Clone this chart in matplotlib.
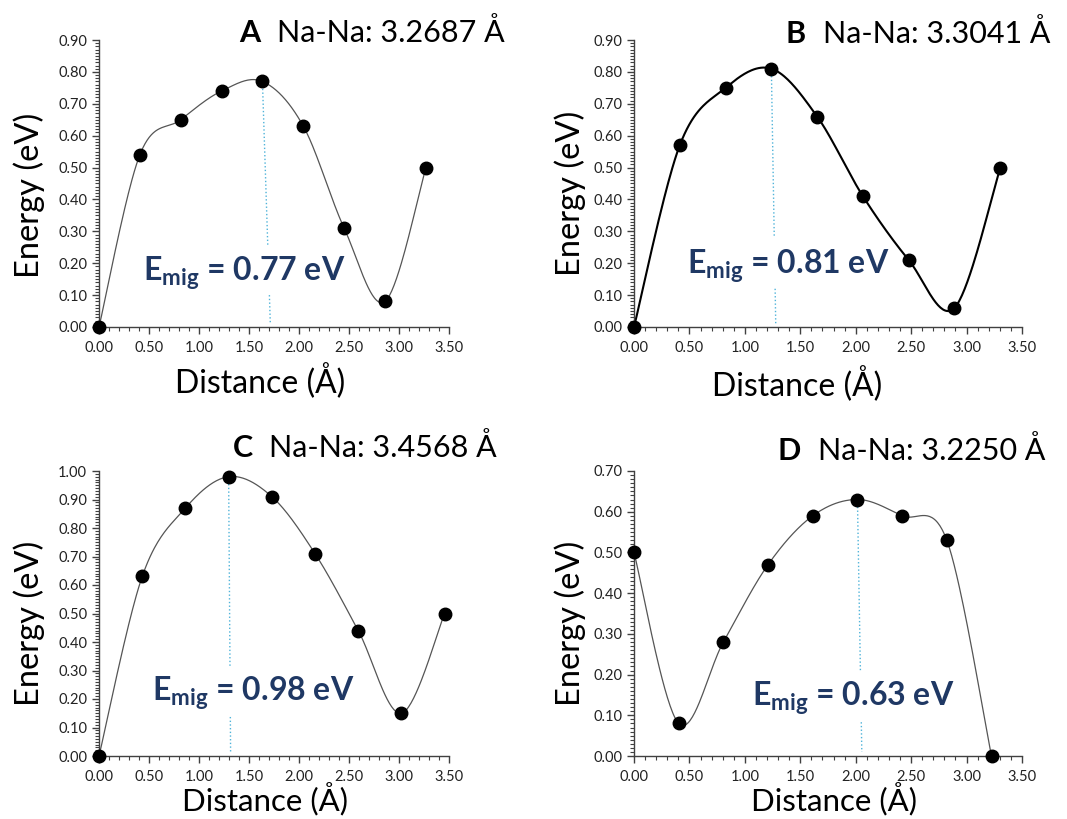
import numpy as np
import matplotlib
matplotlib.use('Agg')
import matplotlib.pyplot as plt
from matplotlib.ticker import MultipleLocator, FormatStrFormatter

plt.rcParams['font.family'] = ['Lato', 'DejaVu Sans']
plt.rcParams['mathtext.fontset'] = 'custom'
plt.rcParams['mathtext.bf'] = 'Lato:bold'
plt.rcParams['mathtext.rm'] = 'Lato'

# Dados: energia ao longo do caminho de migração (9 imagens NEB)
letras = ['A', 'B', 'C', 'D']
na_na = [3.2687, 3.3041, 3.4568, 3.2250]
energia_a = [0.00, 0.54, 0.65, 0.74, 0.77, 0.63, 0.31, 0.08, 0.50]
energia_b = [0.00, 0.57, 0.75, 0.81, 0.66, 0.41, 0.21, 0.06, 0.50]
energia_c = [0.00, 0.63, 0.87, 0.98, 0.91, 0.71, 0.44, 0.15, 0.50]
energia_d = [0.50, 0.08, 0.28, 0.47, 0.59, 0.63, 0.59, 0.53, 0.00]
energias = [energia_a, energia_b, energia_c, energia_d]
e_mig = [0.77, 0.81, 0.98, 0.63]
y_max = [0.90, 0.90, 1.00, 0.70]

# posição do texto E_mig e da linha tracejada (em coordenadas de dados)
texto_x = [0.44, 0.48, 0.53, 1.06]
texto_y = [0.17, 0.19, 0.22, 0.142]
gap_topo = [0.257, 0.28, 0.31, 0.21]
gap_base = [0.10, 0.12, 0.137, 0.083]
desvio_base = [0.08, 0.04, 0.02, 0.04]

# layout (pixels na figura de 1067x819)
caixas = [(99, 40, 449, 327), (634, 40, 1022, 327),
          (99, 471, 449, 756), (634, 471, 1022, 756)]
titulo_pos = [(1.16, 0.993), (1.072, 0.99), (1.137, 1.049), (1.06, 1.04)]
ylabel_pos = [(-0.2, 0.46), (-0.165, 0.467), (-0.2, 0.467), (-0.165, 0.467)]
xlabel_pos = [(0.46, -0.19), (0.42, -0.2), (0.474, -0.15), (0.515, -0.15)]
cor_curva = ['#555555', '#000000', '#555555', '#555555']
lw_curva = [0.9, 1.5, 0.9, 0.9]


def suaviza(x, y, n=40):
    # curva suavizada estilo Excel (Catmull-Rom em Bezier)
    p = np.column_stack([x, y])
    p_ext = np.vstack([p[0], p, p[-1]])
    pts = []
    t = np.linspace(0, 1, n)[:, None]
    for i in range(1, len(p_ext) - 2):
        p0, p1, p2, p3 = p_ext[i - 1], p_ext[i], p_ext[i + 1], p_ext[i + 2]
        b1 = p1 + (p2 - p0) / 6
        b2 = p2 - (p3 - p1) / 6
        seg = ((1 - t) ** 3) * p1 + 3 * ((1 - t) ** 2) * t * b1 + 3 * (1 - t) * t ** 2 * b2 + t ** 3 * p2
        pts.append(seg)
    pts = np.vstack(pts)
    return pts[:, 0], pts[:, 1]


W, H = 1067, 819
fig = plt.figure(figsize=(W / 100, H / 100), dpi=100)

for i in range(4):
    x0, y0, x1, y1 = caixas[i]
    ax = fig.add_axes([x0 / W, 1 - y1 / H, (x1 - x0) / W, (y1 - y0) / H])

    y = np.array(energias[i])
    x = np.linspace(0, na_na[i], len(y))
    xs, ys = suaviza(x, y)
    ax.plot(xs, ys, color=cor_curva[i], lw=lw_curva[i], zorder=2)
    ax.plot(x, y, 'o', color='black', markersize=9, zorder=3, clip_on=False)

    # linha tracejada do pico até o eixo
    k = int(np.argmax(y))
    xp, yp = x[k], y[k]
    xb = xp + desvio_base[i]
    def xl(yy):
        return xp + (xb - xp) * (yp - yy) / yp
    ax.plot([xp, xl(gap_topo[i])], [yp, gap_topo[i]], ls=':', color='#4fb3d9', lw=1.0, zorder=1)
    ax.plot([xl(gap_base[i]), xl(0.01)], [gap_base[i], 0.01], ls=':', color='#4fb3d9', lw=1.0, zorder=1)

    ax.text(texto_x[i], texto_y[i], r'$\mathbf{E_{mig}}$' + f' = {e_mig[i]:.2f} eV',
            color='#1f3864', fontsize=23, fontweight='bold', ha='left', va='center')

    ax.set_xlim(0, 3.5)
    ax.set_ylim(0, y_max[i])
    ax.xaxis.set_major_locator(MultipleLocator(0.5))
    ax.xaxis.set_minor_locator(MultipleLocator(0.1))
    ax.yaxis.set_major_locator(MultipleLocator(0.1))
    ax.yaxis.set_minor_locator(MultipleLocator(0.01))
    ax.xaxis.set_major_formatter(FormatStrFormatter('%.2f'))
    ax.yaxis.set_major_formatter(FormatStrFormatter('%.2f'))
    for s in ['top', 'right']:
        ax.spines[s].set_visible(False)
    for s in ['left', 'bottom']:
        ax.spines[s].set_color('#404040')
        ax.spines[s].set_linewidth(1.0)
    ax.tick_params(which='major', length=5, width=1, color='#404040', labelsize=10.5, labelcolor='#222222')
    ax.tick_params(which='minor', length=3, width=0.8, color='#404040')
    ax.tick_params(axis='x', pad=5)

    ax.set_ylabel('Energy (eV)', fontsize=23.5)
    ax.yaxis.set_label_coords(*ylabel_pos[i])
    ax.set_xlabel('Distance (Å)', fontsize=23 if i < 2 else 22.5)
    ax.xaxis.set_label_coords(*xlabel_pos[i])
    ax.xaxis.label.set_va('center')
    ax.yaxis.label.set_va('center')

    tx, ty = titulo_pos[i]
    t = ax.text(tx, ty, f'Na-Na: {na_na[i]:.4f} Å', transform=ax.transAxes,
                fontsize=22, ha='right', va='baseline')
    ax.annotate(letras[i], xy=(0, 0), xycoords=t, xytext=(-12, 0), textcoords='offset points',
                fontsize=22, fontweight='bold', ha='right', va='bottom')

fig.savefig('out.png', dpi=100)
